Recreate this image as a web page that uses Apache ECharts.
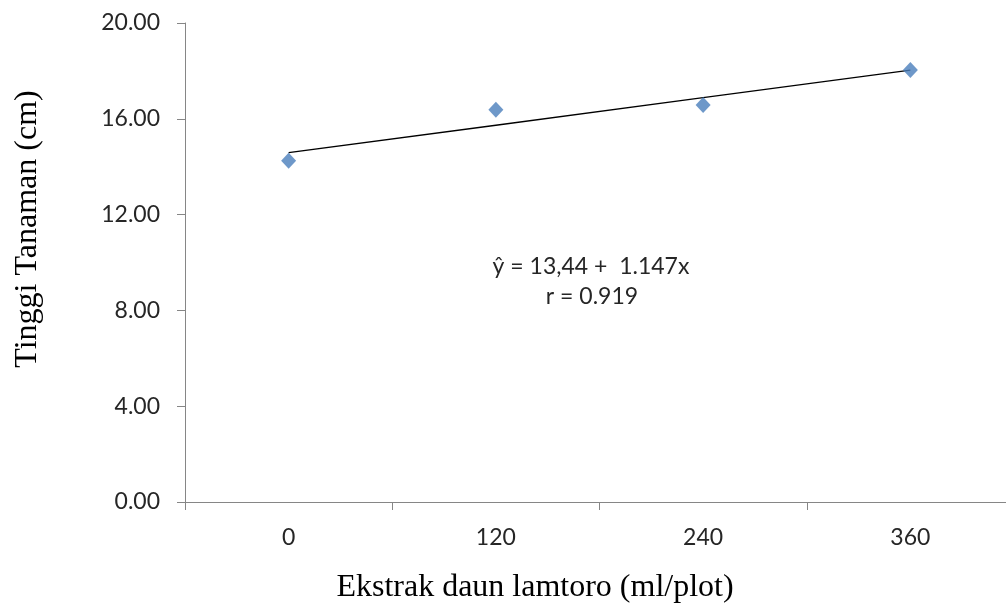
<!DOCTYPE html>
<html>
<head>
<meta charset="utf-8">
<script src="https://cdn.jsdelivr.net/npm/echarts@6/dist/echarts.min.js"></script>
<style>
  html, body { margin: 0; padding: 0; background: #fff; overflow: hidden; }
  /* the source chart runs a little past the right edge, so the canvas is wider than the window */
  #chart { width: 1014px; height: 608px; }
</style>
</head>
<body>
<div id="chart"></div>
<script>
// data
var doses = ['0', '120', '240', '360'];
var heights = [14.25, 16.38, 16.58, 18.04];
// linear trend line (ŷ = 13,44 + 1.147x), values at each dose
var trend = [14.59, 15.73, 16.88, 18.03];
var yTicks = { min: 0, max: 20, interval: 4 };

var axisGrey = '#868686';
var sans = 'Lato, "Open Sans", sans-serif';
var serif = '"Liberation Serif", "DejaVu Serif", serif';

var chart = echarts.init(document.getElementById('chart'));
chart.setOption({
  animation: false,
  grid: { left: 185, top: 23, right: 0, bottom: 106, containLabel: false },
  xAxis: {
    type: 'category',
    data: doses,
    boundaryGap: true,
    axisLine: { lineStyle: { color: axisGrey, width: 1 } },
    axisTick: { show: true, length: 8, alignWithLabel: false, lineStyle: { color: axisGrey } },
    axisLabel: { color: '#262626', fontFamily: sans, fontSize: 23, margin: 24 },
    splitLine: { show: false }
  },
  yAxis: {
    type: 'value',
    min: yTicks.min,
    max: yTicks.max,
    interval: yTicks.interval,
    axisLine: { show: true, lineStyle: { color: axisGrey, width: 1 } },
    axisTick: { show: true, length: 8, lineStyle: { color: axisGrey } },
    axisLabel: {
      color: '#262626', fontFamily: sans, fontSize: 23, margin: 25,
      formatter: function (v) { return v.toFixed(2); }
    },
    splitLine: { show: false }
  },
  series: [
    {
      name: 'trend',
      type: 'line',
      data: trend,
      symbol: 'none',
      lineStyle: { color: '#000', width: 1.3 },
      z: 2
    },
    {
      name: 'Tinggi Tanaman',
      type: 'scatter',
      data: heights,
      symbol: 'diamond',
      symbolSize: [15, 16],
      itemStyle: { color: '#4a7ebb' },
      z: 3
    }
  ],
  graphic: [
    {
      type: 'text', x: 591, y: 267,
      style: { text: 'ŷ = 13,44 +  1.147x', font: '23px ' + sans, fill: '#262626', align: 'center', verticalAlign: 'middle' }
    },
    {
      type: 'text', x: 592, y: 297,
      style: { text: 'r = 0.919', font: '23px ' + sans, fill: '#262626', align: 'center', verticalAlign: 'middle' }
    },
    {
      type: 'text', x: 535, y: 588,
      style: { text: 'Ekstrak daun lamtoro (ml/plot)', font: '32px ' + serif, fill: '#000', align: 'center', verticalAlign: 'middle' }
    },
    {
      type: 'text', x: 28, y: 229, rotation: Math.PI / 2,
      style: { text: 'Tinggi Tanaman (cm)', font: '32px ' + serif, fill: '#000', align: 'center', verticalAlign: 'middle' }
    }
  ]
});
window.addEventListener('resize', function () { chart.resize(); });
</script>
</body>
</html>
